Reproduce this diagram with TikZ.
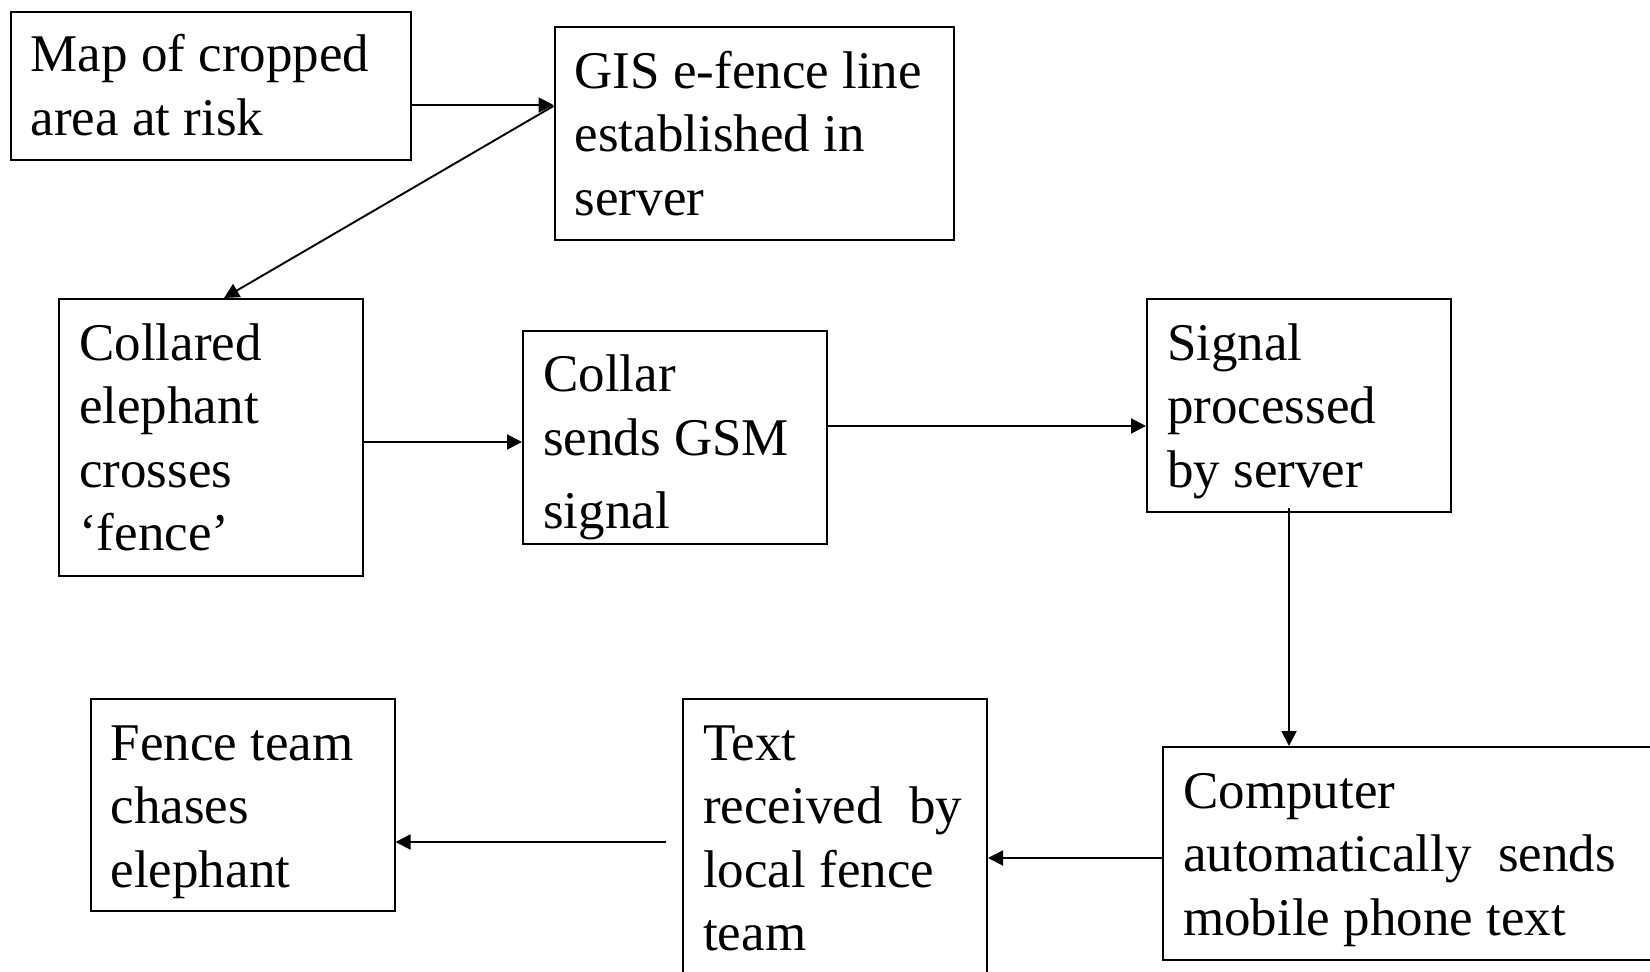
\documentclass[tikz,border=0pt]{standalone}
\usepackage{fontspec}
\setmainfont{Liberation Serif}
\usetikzlibrary{arrows.meta,calc}
\tikzset{
  box/.style={draw, line width=2pt, rectangle, inner sep=0pt, anchor=north west},
  lbl/.style={inner sep=0pt, anchor=base west, font=\fontsize{53}{63.5}\selectfont},
  arr/.style={line width=1.9pt, -{Triangle[length=15pt,width=15pt]}},
}
\newcommand\lines[1]{\parbox[t]{700pt}{#1}}
\begin{document}
\begin{tikzpicture}[x=1pt,y=-1pt]
  \useasboundingbox (0,0) rectangle (1650,972);
  \clip (0,0) rectangle (1650,972);

  % boxes
  \node[box, minimum width=400.5pt, minimum height=148.5pt] (map)      at (9.5,10.5) {};
  \node[box, minimum width=399.5pt, minimum height=213pt]   (gis)      at (553.5,26) {};
  \node[box, minimum width=304pt,   minimum height=277pt]   (collared) at (58,298) {};
  \node[box, minimum width=304pt,   minimum height=213pt]   (collar)   at (522,330) {};
  \node[box, minimum width=304pt,   minimum height=213pt]   (signal)   at (1146,298) {};
  \node[box, minimum width=304pt,   minimum height=212pt]   (fence)    at (89.5,698) {};
  \node[box, minimum width=304pt,   minimum height=300pt]   (textrx)   at (682,698) {};
  \node[box, minimum width=520pt,   minimum height=213pt]   (computer) at (1162,746) {};

  % box texts
  \node[lbl] (maptxt) at (30.5,71.5) {\lines{Map of cropped\\area at risk}};
  \node[lbl] (gistxt) at (574.5,88) {\lines{GIS e-fence line\\established in\\server}};
  \node[lbl] (collaredtxt) at (79,360) {\lines{Collared\\elephant\\crosses\\‘fence’}};
  \node[lbl] (collartxt) at (543,391.5) {\lines{Collar\\sends GSM\\[10pt]signal}};
  \node[lbl] (signaltxt) at (1167,360) {\lines{Signal\\processed\\by server}};
  \node[lbl] (fencetxt) at (110.5,760) {\lines{Fence team\\chases\\elephant}};
  \node[lbl] (textrxtxt) at (703,760) {\lines{Text\\received\ \ by\\local fence\\team}};
  \node[lbl] (computertxt) at (1183,808) {\lines{Computer\\automatically\ \ sends\\mobile phone text}};

  % connectors
  \coordinate (tstart) at (666,842);
  \draw[arr] ($(map.north east)+(0,94.5)$) -- ($(gis.north west)+(0,79)$);
  \draw[arr] ($(gis.north west)+(0,80)$) -- ($(collared.north west)+(166,0)$);
  \draw[arr] ($(collared.north east)+(0,144)$) -- ($(collar.north west)+(0,112)$);
  \draw[arr] ($(collar.north east)+(0,96)$) -- ($(signal.north west)+(0,128)$);
  \draw[arr] ($(signal.south west)+(143,-5)$) -- ($(computer.north west)+(127,0)$);
  \draw[arr] ($(computer.north west)+(0,112)$) -- ($(textrx.north east)+(0,160)$);
  \draw[arr] (tstart) -- ($(fence.north east)+(0,144)$);
\end{tikzpicture}
\end{document}
